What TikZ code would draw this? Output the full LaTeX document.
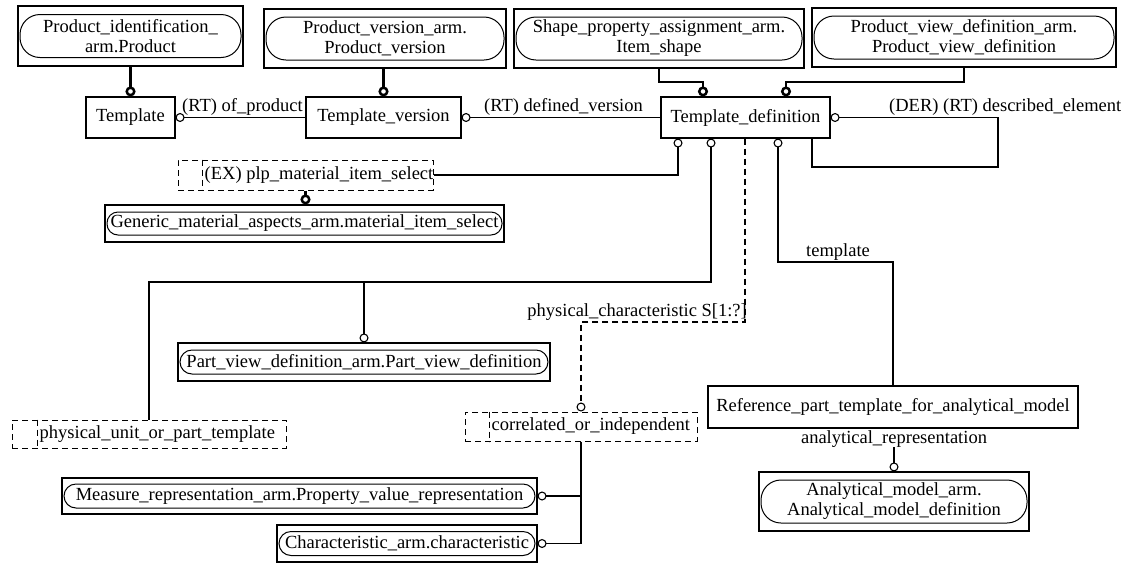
\documentclass[tikz,border=0pt]{standalone}
\usepackage{fontspec}
\setmainfont{Liberation Serif}
\usetikzlibrary{arrows.meta,calc}
\begin{document}
\begin{tikzpicture}[x=1pt,y=-1pt,
  every node/.style={font=\fontsize{18.5}{20}\selectfont, inner sep=0pt},
  entbox/.style={draw, line width=1.1pt, align=center},
  armout/.style={draw, line width=1.1pt},
  armin/.style={draw, line width=1pt, rounded corners=#1, align=center},
  selbox/.style={draw, line width=1pt, dash pattern=on 6pt off 4pt},
  seldiv/.style={line width=1pt, dash pattern=on 6pt off 4pt},
  lbl/.style={},
  rel/.style={line width=1.1pt, -{Circle[open,length=9pt,width=9pt]}},
  reldash/.style={rel, dash pattern=on 6pt off 4pt},
  relthick/.style={line width=2.5pt, -{Circle[open,length=10pt,width=10pt]}}]
\useasboundingbox (0,0) rectangle (1127,563);

% entities referenced from other schemas
\node[armout, minimum width=225pt, minimum height=60pt] (pid) at (130.5,36) {};
\node[armin=20pt, minimum width=221pt, minimum height=43pt] (pid-in) at (pid.center) {Product\_identification\_\\arm.Product};
\node[armout, minimum width=242pt, minimum height=59pt] (pv) at (385,38.5) {};
\node[armin=20pt, minimum width=238pt, minimum height=43pt] (pv-in) at (pv.center) {Product\_version\_arm.\\Product\_version};
\node[armout, minimum width=290pt, minimum height=59pt] (spa) at (659,38.5) {};
\node[armin=20pt, minimum width=286pt, minimum height=43pt] (spa-in) at (spa.center) {Shape\_property\_assignment\_arm.\\Item\_shape};
\node[armout, minimum width=304pt, minimum height=59pt] (pvd) at (964,37.5) {};
\node[armin=20pt, minimum width=300pt, minimum height=43pt] (pvd-in) at (pvd.center) {Product\_view\_definition\_arm.\\Product\_view\_definition};
\node[armout, minimum width=399pt, minimum height=37pt] (gma) at (304.5,223.5) {};
\node[armin=11pt, minimum width=395pt, minimum height=23pt] (gma-in) at (gma.center) {Generic\_material\_aspects\_arm.material\_item\_select};
\node[armout, minimum width=372pt, minimum height=38pt] (pvdef) at (364,362) {};
\node[armin=12pt, minimum width=368pt, minimum height=24pt] (pvdef-in) at (pvdef.center) {Part\_view\_definition\_arm.Part\_view\_definition};
\node[armout, minimum width=270pt, minimum height=59pt] (am) at (894,501.5) {};
\node[armin=20pt, minimum width=266pt, minimum height=43pt] (am-in) at (am.center) {Analytical\_model\_arm.\\Analytical\_model\_definition};
\node[armout, minimum width=475pt, minimum height=36pt] (mr) at (299.5,496) {};
\node[armin=12pt, minimum width=471pt, minimum height=24pt] (mr-in) at (mr.center) {Measure\_representation\_arm.Property\_value\_representation};
\node[armout, minimum width=260pt, minimum height=37pt] (ch) at (407,543.5) {};
\node[armin=12pt, minimum width=256pt, minimum height=24pt] (ch-in) at (ch.center) {Characteristic\_arm.characteristic};

% local entities
\node[entbox, minimum width=89pt, minimum height=41pt] (tmpl) at (130.5,117.5) {Template};
\node[entbox, minimum width=155pt, minimum height=41pt] (tv) at (383.5,117.5) {Template\_version};
\node[entbox, minimum width=169pt, minimum height=41pt] (td) at (745.5,117.5) {Template\_definition};
\node[entbox, minimum width=370pt, minimum height=42pt] (ref) at (893,407) {Reference\_part\_template\_for\_analytical\_model};

% select types
\node[selbox, minimum width=255pt, minimum height=30pt] (ex) at (305.5,175) {};
\draw[seldiv] ($(ex.north west)+(25,0)$) -- ($(ex.south west)+(25,0)$);
\node[lbl, anchor=west] (ex-t) at ($(ex.west)+(27,0)$) {(EX) plp\_material\_item\_select};
\node[selbox, minimum width=274pt, minimum height=28pt] (pu) at (149,434) {};
\draw[seldiv] ($(pu.north west)+(26,0)$) -- ($(pu.south west)+(26,0)$);
\node[lbl, anchor=west] (pu-t) at ($(pu.west)+(28,0)$) {physical\_unit\_or\_part\_template};
\node[selbox, minimum width=232pt, minimum height=29pt] (coi) at (581,426.5) {};
\draw[seldiv] ($(coi.north west)+(25,0)$) -- ($(coi.south west)+(25,0)$);
\node[lbl, anchor=west] (coi-t) at ($(coi.west)+(27,0)$) {correlated\_or\_independent};

% role labels
\node[lbl, anchor=base west] (l-op) at (182,111) {(RT) of\_product};
\node[lbl, anchor=base west] (l-dv) at (484,111) {(RT) defined\_version};
\node[lbl, anchor=base west] (l-de) at (889,111) {(DER) (RT) described\_element};
\node[lbl, anchor=base west] (l-tp) at (806,256) {template};
\node[lbl, anchor=base east] (l-pc) at (747,316) {physical\_characteristic S[1:?]};
\node[lbl, anchor=base] (arl) at (894,443) {analytical\_representation};

% supertype links
\draw[relthick] (pid.south) -- (tmpl.north);
\draw[relthick] (tv.north |- pv.south) -- (tv.north);
\draw[relthick] (spa.south) -- (spa.south |- 0,82) -- (703,82) -- (703,0 |- td.north);
\draw[relthick] (pvd.south) -- (pvd.south |- 0,82) -- (786,82) -- (786,0 |- td.north);
\draw[relthick] (ex.south) -- (ex.south |- gma.north);

% attributes
\draw[rel] (tv.west) -- (tmpl.east);
\draw[rel] (td.west) -- (tv.east);
\draw[rel] (812,0 |- td.south) -- (812,167) -- (998,167) -- (998,0 |- td.east) -- (td.east);
\draw[rel] (ex.east) -| (678,0 |- td.south);
\draw[rel] (pu.north) -- (pu.north |- 0,282) -- (711,282) -- (711,0 |- td.south);
\draw[rel] (pvdef.north |- 0,282) -- (pvdef.north);
\draw[reldash] (745,0 |- td.south) -- (745,322) -- (coi.north |- 0,322) -- (coi.north);
\draw[rel] (ref.north) -- (ref.north |- 0,262) -- (778,262) -- (778,0 |- td.south);
\draw[rel] (arl.south -| am.north) -- (am.north);
\draw[rel] (coi.south) -- (coi.south |- ch.east) -- (ch.east);
\draw[rel] (coi.south |- mr.east) -- (mr.east);
\end{tikzpicture}
\end{document}
